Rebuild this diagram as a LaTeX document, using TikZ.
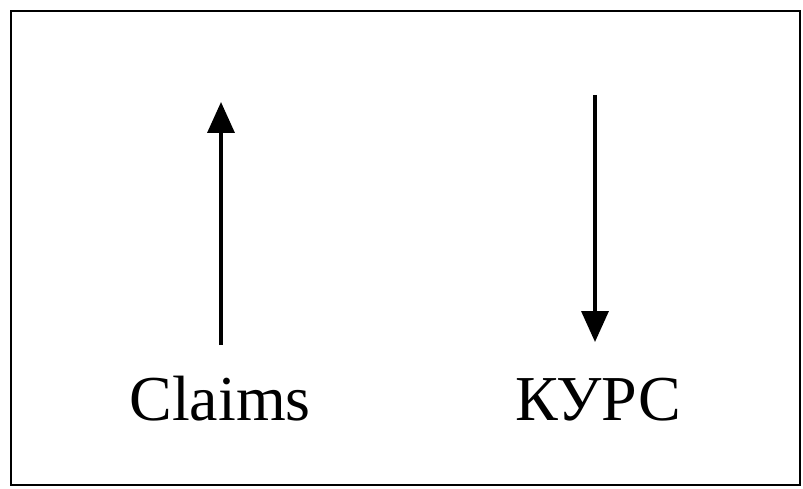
\documentclass[tikz,border=0pt]{standalone}
\usepackage{fontspec}
\setmainfont{Liberation Serif}
\usetikzlibrary{arrows.meta}
\begin{document}
\begin{tikzpicture}[x=1pt,y=-1pt,
  frame/.style={draw=black,line width=2.5pt},
  arr/.style={draw=black,line width=3.5pt,-{Triangle[width=27pt,length=31pt]}},
  lbl/.style={font=\fontsize{64}{70}\selectfont,inner sep=0pt,anchor=base}]
\useasboundingbox (0,0) rectangle (803,489);
\draw[frame] (11,11) rectangle (800,485);
\node[lbl] (claims) at (220,420) {Claims};
\node[lbl] (kurs) at (598,420) {КУРС};
\coordinate (upS) at (221,345);
\coordinate (upE) at (221,102);
\coordinate (dnS) at (595,95);
\coordinate (dnE) at (595,342);
\draw[arr] (upS) -- (upE);
\draw[arr] (dnS) -- (dnE);
\end{tikzpicture}
\end{document}
